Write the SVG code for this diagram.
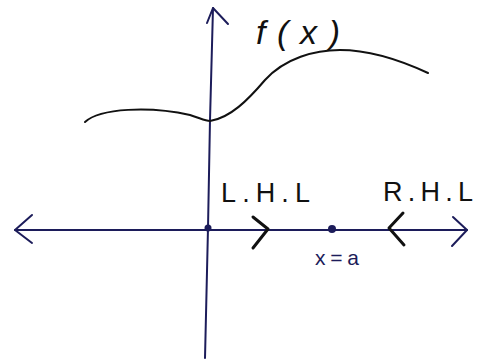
<svg xmlns="http://www.w3.org/2000/svg" width="484" height="360" viewBox="0 0 484 360">
<style>
.axis{stroke:#1c1c5a;stroke-width:2;fill:none;stroke-linecap:round;stroke-linejoin:round}
.mark{stroke:#111;stroke-width:3;fill:none;stroke-linecap:round;stroke-linejoin:round}
.curve{stroke:#111;stroke-width:2;fill:none;stroke-linecap:round}
.lbl{font-family:"Liberation Sans",Arial,sans-serif;fill:#111}
.dot{fill:#1c1c5a}
</style>
<rect width="484" height="360" fill="#fff"/>
<g id="connectors">
  <path class="axis" d="M213,8 L210,120 L208,228 L205,358"/>
  <path class="axis" d="M207,23 L213,8 L228,24"/>
  <path class="axis" d="M15,230 L467,230"/>
  <path class="axis" d="M32,215 L15,230 L32,243"/>
  <path class="axis" d="M453,217 L467,230 L452,246"/>
  <path class="curve" d="M85,122 C100,108 150,106 190,115 C200,118 205,121 210,121 C230,118 248,100 265,80 C285,58 315,50 340,50 C370,50 400,60 428,73"/>
</g>
<g id="lhl">
  <path class="mark" d="M253,217 L268,229 L253,248"/>
  <text class="lbl" x="221" y="202" font-size="27" textLength="89" lengthAdjust="spacing">L.H.L</text>
</g>
<g id="rhl">
  <path class="mark" d="M403,213 L389,228 L404,245"/>
  <text class="lbl" x="383" y="201" font-size="27" textLength="90" lengthAdjust="spacing">R.H.L</text>
</g>
<g id="origin">
  <circle class="dot" cx="208" cy="228" r="3.5"/>
</g>
<g id="xa">
  <circle class="dot" cx="332" cy="229" r="4"/>
  <text class="lbl" x="315" y="265" font-size="21" style="fill:#1c1c5a" textLength="44" lengthAdjust="spacing">x=a</text>
</g>
<g id="fx">
  <text class="lbl" x="256" y="44" font-size="34" font-style="italic" textLength="84" lengthAdjust="spacing">f(x)</text>
</g>
</svg>
